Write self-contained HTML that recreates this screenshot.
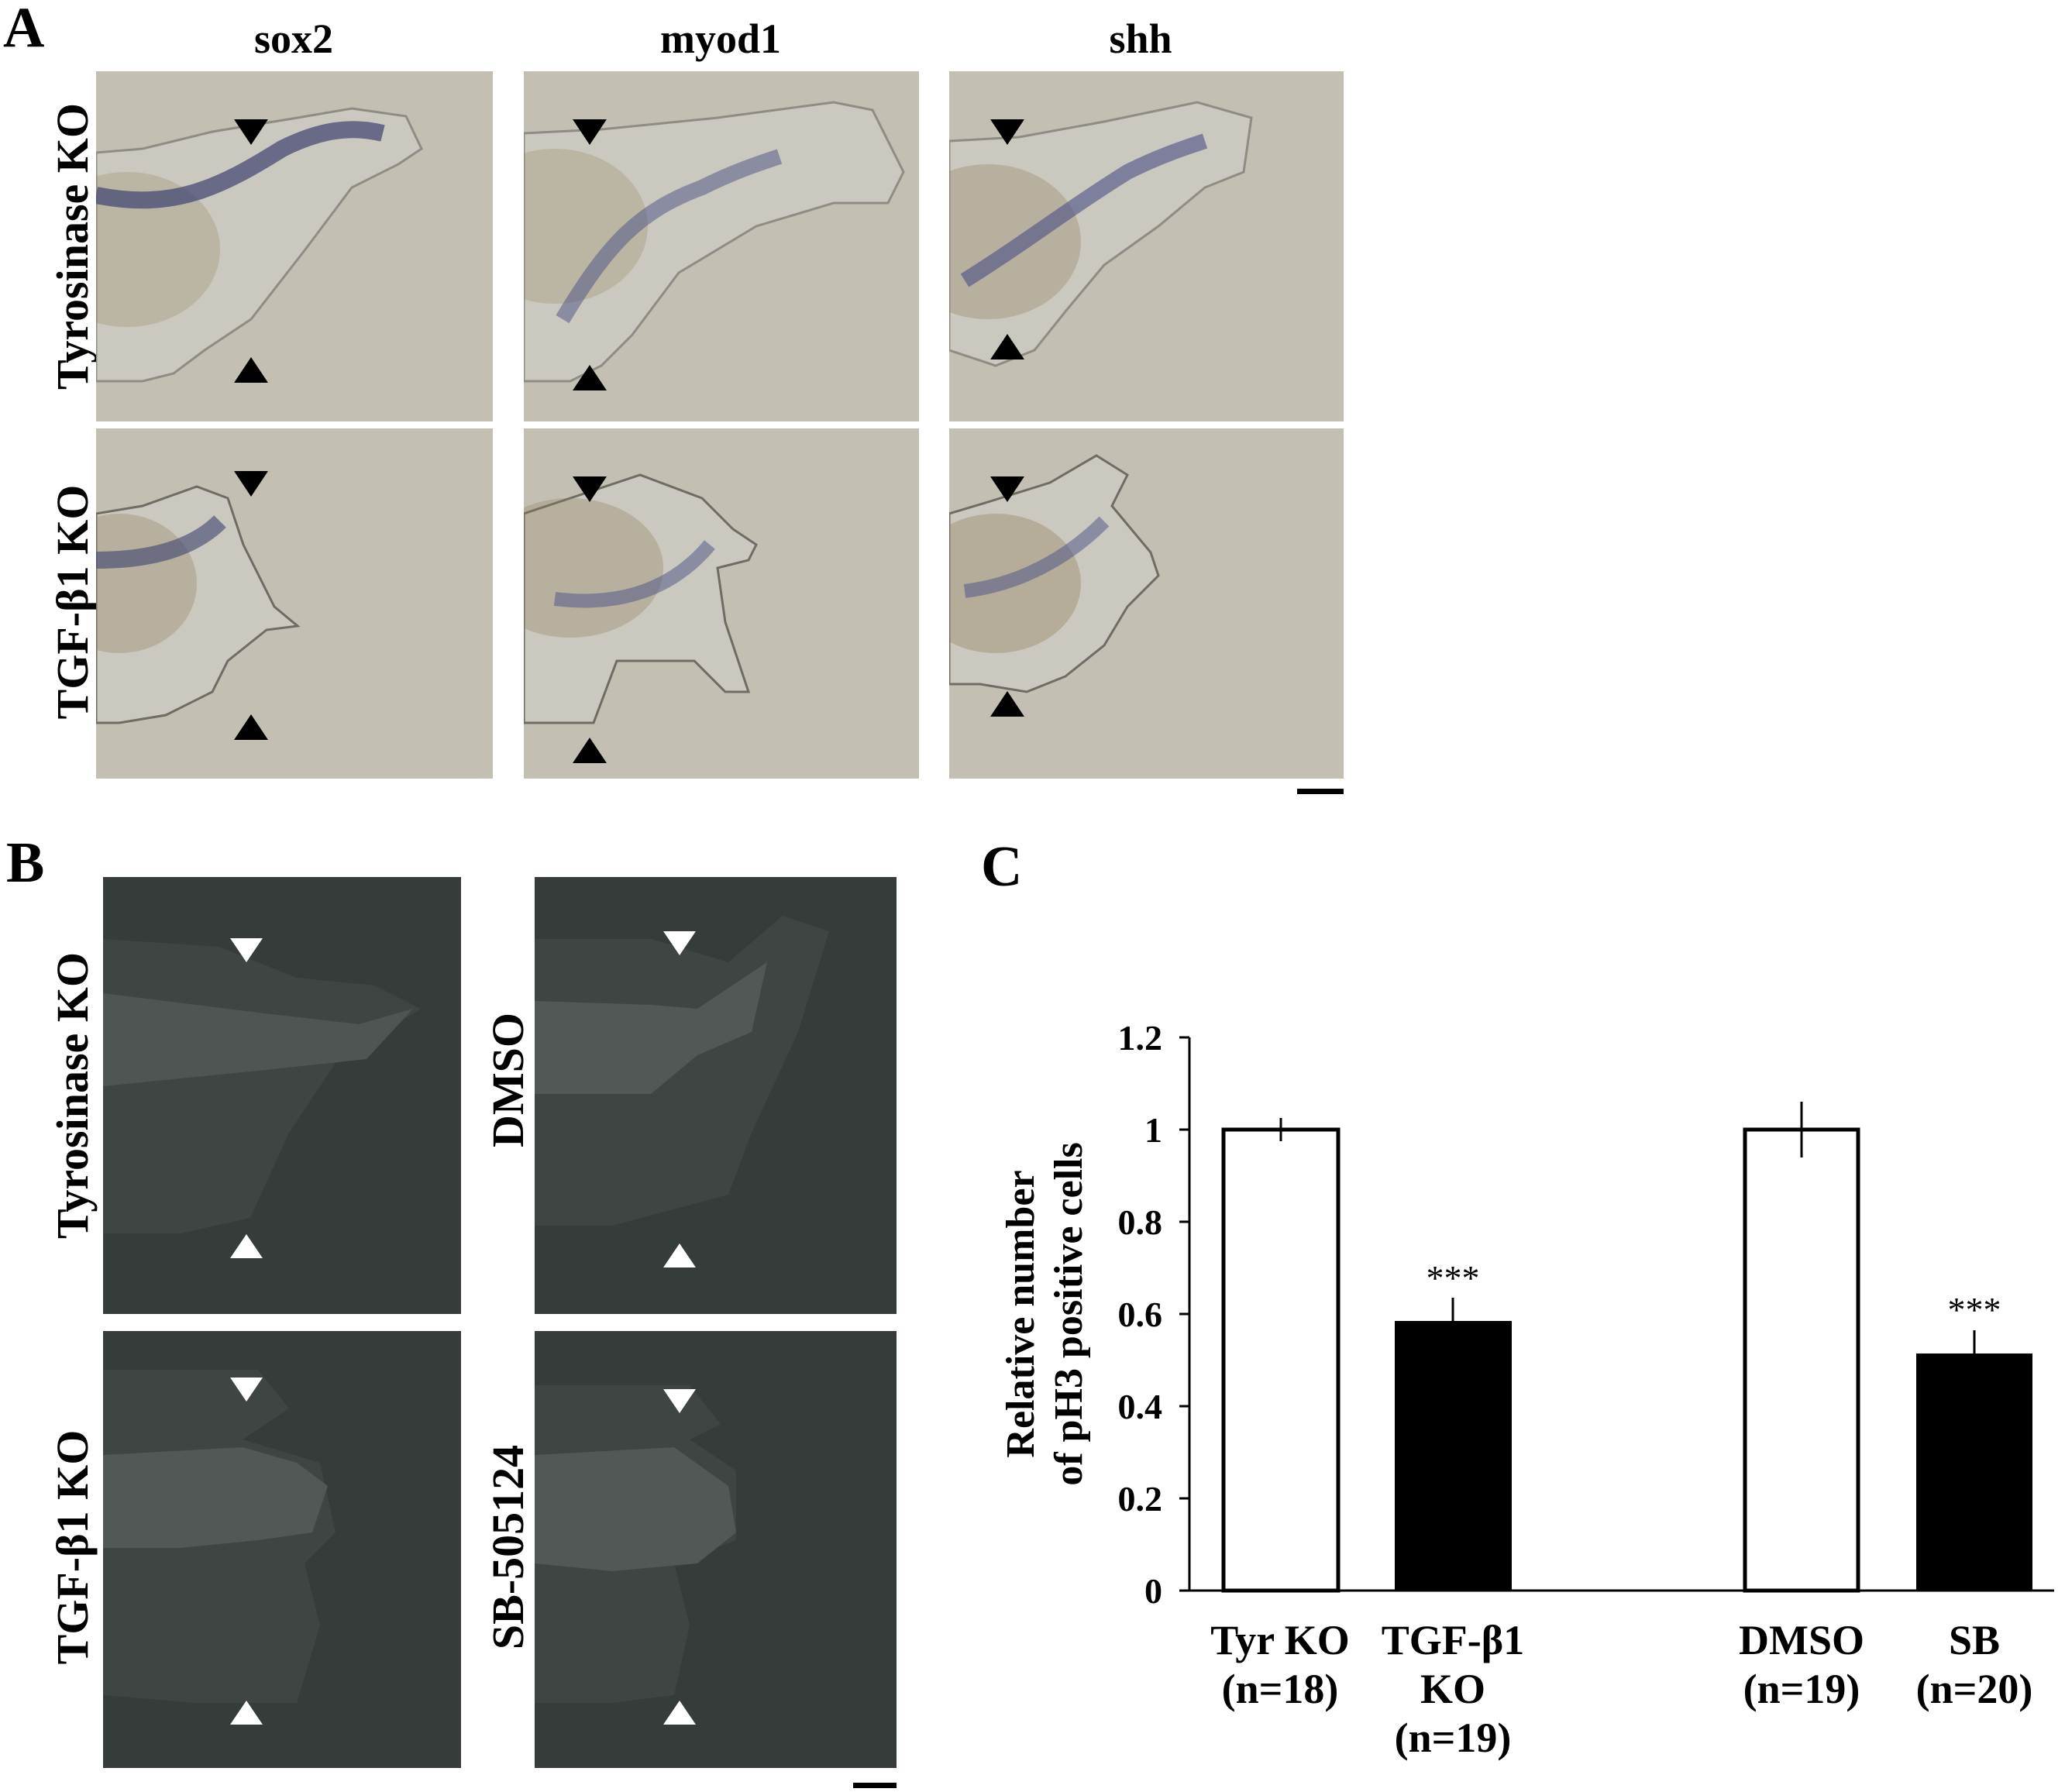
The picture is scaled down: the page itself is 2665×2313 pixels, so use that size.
<!DOCTYPE html>
<html><head><meta charset="utf-8"><style>
html,body{margin:0;padding:0;background:#fff;}
svg{display:block;}
text{font-family:"Liberation Serif",serif;font-weight:bold;fill:#000;}
</style></head><body>
<svg width="2665" height="2313" viewBox="0 0 2665 2313" xmlns="http://www.w3.org/2000/svg">
<rect width="2665" height="2313" fill="#fff"/>
<!-- Panel A -->
<text x="4" y="60" font-size="74">A</text>
<text x="379" y="68" font-size="54" text-anchor="middle">sox2</text>
<text x="930" y="68" font-size="54" text-anchor="middle">myod1</text>
<text x="1472" y="68" font-size="54" text-anchor="middle">shh</text>
<text transform="translate(113,318) rotate(-90)" font-size="58" text-anchor="middle">Tyrosinase KO</text>
<text transform="translate(113,777) rotate(-90)" font-size="58" text-anchor="middle">TGF-β1 KO</text>

<svg x="124" y="92" width="512" height="452" overflow="hidden">
<rect width="512" height="452" fill="#c4bfb3"/>
<path d="M0,105 L60,100 L150,78 L260,60 L330,48 L400,58 L420,100 L390,120 L330,150 L270,230 L200,320 L140,360 L100,390 L60,400 L0,400 Z" fill="#cbc8bf" stroke="#8f8c84" stroke-width="3"/>
<ellipse cx="40" cy="230" rx="120" ry="100" fill="#8c7a55" opacity="0.25"/>
<path d="M0,160 C100,180 160,150 240,100 C290,75 330,70 370,80" stroke="#3d4270" stroke-width="22" fill="none" opacity="0.7"/>
<polygon points="178,62 222,62 200,95" fill="#000"/>
<polygon points="178,402 222,402 200,369" fill="#000"/>
</svg>
<svg x="676" y="92" width="510" height="452" overflow="hidden">
<rect width="510" height="452" fill="#c4bfb3"/>
<path d="M0,80 L100,75 L250,60 L400,40 L450,50 L490,130 L470,170 L400,170 L300,200 L200,260 L140,340 L100,380 L60,400 L0,400 Z" fill="#cbc8bf" stroke="#8f8c84" stroke-width="3"/>
<ellipse cx="40" cy="200" rx="120" ry="100" fill="#8c7a55" opacity="0.25"/>
<path d="M50,320 C110,220 150,180 230,150 C270,130 300,120 330,110" stroke="#4a4f85" stroke-width="20" fill="none" opacity="0.5"/>
<polygon points="63,62 107,62 85,95" fill="#000"/>
<polygon points="63,412 107,412 85,379" fill="#000"/>
</svg>
<svg x="1225" y="92" width="509" height="452" overflow="hidden">
<rect width="509" height="452" fill="#c4bfb3"/>
<path d="M0,90 L90,85 L200,65 L320,40 L390,60 L380,130 L330,150 L270,200 L200,250 L150,310 L110,360 L60,380 L0,360 Z" fill="#cbc8bf" stroke="#8f8c84" stroke-width="3"/>
<ellipse cx="50" cy="220" rx="120" ry="100" fill="#8c7a55" opacity="0.3"/>
<path d="M20,270 C100,220 150,180 230,130 C270,110 300,100 330,90" stroke="#4a4f85" stroke-width="20" fill="none" opacity="0.6"/>
<polygon points="53,62 97,62 75,95" fill="#000"/>
<polygon points="53,372 97,372 75,339" fill="#000"/>
</svg>
<svg x="124" y="553" width="512" height="452" overflow="hidden">
<rect width="512" height="452" fill="#c4bfb3"/>
<path d="M0,110 L60,100 L130,75 L170,90 L190,150 L230,230 L260,255 L220,260 L170,300 L150,340 L90,370 L30,380 L0,380 Z" fill="#cbc8bf" stroke="#6f6c64" stroke-width="3"/>
<ellipse cx="30" cy="200" rx="100" ry="90" fill="#8c7a55" opacity="0.3"/>
<path d="M0,170 C80,170 130,150 160,120" stroke="#3d4270" stroke-width="22" fill="none" opacity="0.6"/>
<polygon points="178,55 222,55 200,88" fill="#000"/>
<polygon points="178,402 222,402 200,369" fill="#000"/>
</svg>
<svg x="676" y="553" width="510" height="452" overflow="hidden">
<rect width="510" height="452" fill="#c4bfb3"/>
<path d="M0,110 L60,90 L150,60 L230,90 L270,130 L300,150 L290,170 L250,180 L260,250 L290,340 L260,340 L220,300 L120,300 L90,380 L40,380 L0,380 Z" fill="#cbc8bf" stroke="#6f6c64" stroke-width="3"/>
<ellipse cx="60" cy="180" rx="120" ry="90" fill="#8c7a55" opacity="0.3"/>
<path d="M40,220 C120,230 190,210 240,150" stroke="#4a4f85" stroke-width="18" fill="none" opacity="0.5"/>
<polygon points="63,62 107,62 85,95" fill="#000"/>
<polygon points="63,432 107,432 85,399" fill="#000"/>
</svg>
<svg x="1225" y="553" width="509" height="452" overflow="hidden">
<rect width="509" height="452" fill="#c4bfb3"/>
<path d="M0,110 L50,95 L130,70 L190,35 L230,60 L210,100 L260,160 L270,190 L230,230 L200,280 L150,320 L100,340 L40,330 L0,330 Z" fill="#cbc8bf" stroke="#6f6c64" stroke-width="3"/>
<ellipse cx="60" cy="200" rx="110" ry="90" fill="#8c7a55" opacity="0.35"/>
<path d="M20,210 C100,200 160,160 200,120" stroke="#4a4f85" stroke-width="18" fill="none" opacity="0.5"/>
<polygon points="53,62 97,62 75,95" fill="#000"/>
<polygon points="53,372 97,372 75,339" fill="#000"/>
</svg>
<rect x="1674" y="1018" width="60" height="7" fill="#000"/>

<!-- Panel B -->
<text x="8" y="1138" font-size="74">B</text>
<text transform="translate(113,1414) rotate(-90)" font-size="58" text-anchor="middle">Tyrosinase KO</text>
<text transform="translate(675,1394) rotate(-90)" font-size="58" text-anchor="middle">DMSO</text>
<text transform="translate(113,1997) rotate(-90)" font-size="58" text-anchor="middle">TGF-β1 KO</text>
<text transform="translate(675,1997) rotate(-90)" font-size="58" text-anchor="middle">SB-505124</text>

<svg x="133" y="1132" width="462" height="564" overflow="hidden">
<rect width="462" height="564" fill="#363c39"/>
<path d="M0,80 L150,90 L250,130 L350,140 L410,170 L300,240 L240,330 L190,440 L100,460 L0,460 Z" fill="#3f4542"/>
<path d="M0,150 L200,175 L330,190 L400,170 L340,235 L200,250 L0,270 Z" fill="#4f5552"/>
<polygon points="164,79 206,79 185,110" fill="#fff"/>
<polygon points="164,492 206,492 185,461" fill="#fff"/>
</svg>
<svg x="690" y="1132" width="467" height="564" overflow="hidden">
<rect width="467" height="564" fill="#363c39"/>
<path d="M0,80 L150,80 L250,110 L320,50 L380,70 L340,200 L280,330 L250,410 L100,450 L0,450 Z" fill="#3f4542"/>
<path d="M0,160 L150,165 L210,170 L300,110 L280,200 L210,230 L150,280 L0,280 Z" fill="#525855"/>
<polygon points="166,70 208,70 187,101" fill="#fff"/>
<polygon points="166,504 208,504 187,473" fill="#fff"/>
</svg>
<svg x="133" y="1718" width="462" height="564" overflow="hidden">
<rect width="462" height="564" fill="#363c39"/>
<path d="M0,50 L200,50 L240,100 L210,120 L180,140 L280,170 L300,260 L260,300 L280,380 L250,480 L120,480 L0,470 Z" fill="#3f4542"/>
<path d="M0,160 L180,150 L250,170 L290,200 L270,260 L200,270 L100,280 L0,280 Z" fill="#525855"/>
<polygon points="164,60 206,60 185,91" fill="#fff"/>
<polygon points="164,508 206,508 185,477" fill="#fff"/>
</svg>
<svg x="690" y="1718" width="467" height="564" overflow="hidden">
<rect width="467" height="564" fill="#363c39"/>
<path d="M0,70 L200,70 L240,120 L200,140 L260,180 L260,270 L180,300 L200,380 L180,470 L100,480 L0,480 Z" fill="#3f4542"/>
<path d="M0,160 L180,150 L250,200 L260,260 L210,300 L100,310 L0,300 Z" fill="#525855"/>
<polygon points="166,75 208,75 187,106" fill="#fff"/>
<polygon points="166,508 208,508 187,477" fill="#fff"/>
</svg>
<rect x="1101" y="2301" width="56" height="7" fill="#000"/>

<!-- Panel C -->
<text x="1266" y="1143" font-size="74">C</text>
<text transform="translate(1334,1696) rotate(-90)" font-size="52" text-anchor="middle">Relative number</text>
<text transform="translate(1396,1696) rotate(-90)" font-size="52" text-anchor="middle">of pH3 positive cells</text>
<g font-size="46">
<text x="1500" y="2069" text-anchor="end">0</text>
<text x="1500" y="1950" text-anchor="end">0.2</text>
<text x="1500" y="1831" text-anchor="end">0.4</text>
<text x="1500" y="1712" text-anchor="end">0.6</text>
<text x="1500" y="1593" text-anchor="end">0.8</text>
<text x="1500" y="1474" text-anchor="end">1</text>
<text x="1500" y="1355" text-anchor="end">1.2</text>
</g>
<g stroke="#000" stroke-width="3">
<line x1="1535" y1="1339" x2="1535" y2="2053"/>
<line x1="1522" y1="2053" x2="2651" y2="2053"/>
<line x1="1522" y1="1339" x2="1535" y2="1339"/>
<line x1="1522" y1="1458" x2="1535" y2="1458"/>
<line x1="1522" y1="1577" x2="1535" y2="1577"/>
<line x1="1522" y1="1696" x2="1535" y2="1696"/>
<line x1="1522" y1="1815" x2="1535" y2="1815"/>
<line x1="1522" y1="1934" x2="1535" y2="1934"/>
</g>
<rect x="1579" y="1458" width="148" height="595" fill="#fff" stroke="#000" stroke-width="5"/>
<rect x="1800" y="1705" width="151" height="348" fill="#000"/>
<rect x="2252" y="1458" width="146" height="595" fill="#fff" stroke="#000" stroke-width="5"/>
<rect x="2473" y="1747" width="150" height="306" fill="#000"/>
<g stroke="#000" stroke-width="3">
<line x1="1653" y1="1443" x2="1653" y2="1473"/>
<line x1="1875" y1="1675" x2="1875" y2="1705"/>
<line x1="2325" y1="1422" x2="2325" y2="1494"/>
<line x1="2548" y1="1717" x2="2548" y2="1747"/>
</g>
<g font-size="46" text-anchor="middle">
<text x="1875" y="1665" style="font-weight:normal">***</text>
<text x="2548" y="1706" style="font-weight:normal">***</text>
</g>
<g font-size="54" text-anchor="middle">
<text x="1652" y="2135">Tyr KO</text>
<text x="1652" y="2198">(n=18)</text>
<text x="1875" y="2135">TGF-β1</text>
<text x="1875" y="2198">KO</text>
<text x="1875" y="2261">(n=19)</text>
<text x="2325" y="2135">DMSO</text>
<text x="2325" y="2198">(n=19)</text>
<text x="2548" y="2135">SB</text>
<text x="2548" y="2198">(n=20)</text>
</g>
</svg>
</body></html>
